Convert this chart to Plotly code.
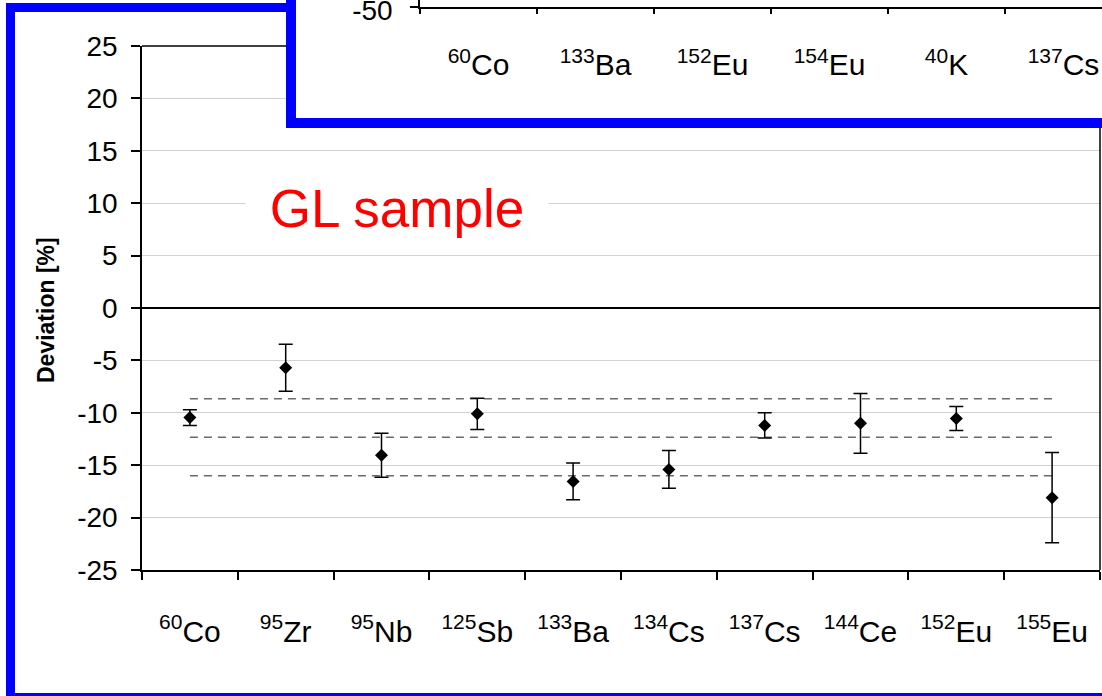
import plotly.graph_objects as go

# ---------------- data ----------------
nuclides = ["<sup>60</sup>Co", "<sup>95</sup>Zr", "<sup>95</sup>Nb", "<sup>125</sup>Sb",
            "<sup>133</sup>Ba", "<sup>134</sup>Cs", "<sup>137</sup>Cs", "<sup>144</sup>Ce",
            "<sup>152</sup>Eu", "<sup>155</sup>Eu"]
deviation = [-10.45, -5.7, -14.05, -10.1, -16.55, -15.4, -11.2, -11.0, -10.55, -18.1]
uncertainty = [0.75, 2.25, 2.1, 1.5, 1.75, 1.8, 1.2, 2.85, 1.15, 4.3]
band_upper = -8.65
band_mean = -12.33
band_lower = -16.0

y_ticks = [25, 20, 15, 10, 5, 0, -5, -10, -15, -20, -25]
y_ticklabels = ["25", "20", "15", "10", "5", "0", "-5", "-10", "-15", "-20", "-25"]

inset_nuclides = ["<sup>60</sup>Co", "<sup>133</sup>Ba", "<sup>152</sup>Eu",
                  "<sup>154</sup>Eu", "<sup>40</sup>K", "<sup>137</sup>Cs"]
inset_yticks = [-50]
inset_yticklabels = ["-50"]

# ---------------- layout constants (pixels) ----------------
W, H = 1102, 696
PL, PR, PT, PB = 142, 1100, 46, 570          # main plot area
IX, IY = 420, 6.5                            # inset axes origin
BLUE = "#0000FF"
FONT = "Liberation Sans, Arial, sans-serif"
YMIN, YMAX = -25, 25


def fx(px):
    return px / W


def fy(py):
    return 1 - py / H


def data_x(px):
    return -0.5 + (px - PL) / (PR - PL) * len(nuclides)


def data_y(py):
    return YMAX - (py - PT) / (PB - PT) * (YMAX - YMIN)


fig = go.Figure()

for val in (band_upper, band_mean, band_lower):
    fig.add_trace(go.Scatter(
        x=[nuclides[0], nuclides[-1]], y=[val, val], mode="lines",
        line=dict(color="#6a6a6a", width=1.5, dash="8px,6px"),
        hoverinfo="skip", xaxis="x", yaxis="y"))

fig.add_trace(go.Scatter(
    x=nuclides, y=deviation, mode="markers",
    marker=dict(symbol="diamond", size=10, color="black"),
    error_y=dict(type="data", array=uncertainty, color="black", thickness=1.5, width=7),
    xaxis="x", yaxis="y"))

# invisible helper trace so the inset axes exist
fig.add_trace(go.Scatter(
    x=inset_nuclides, y=[inset_yticks[0]] * len(inset_nuclides), mode="markers",
    marker=dict(size=1, opacity=0), hoverinfo="skip", xaxis="x2", yaxis="y2"))

fig.update_layout(
    width=W, height=H,
    margin=dict(l=0, r=0, t=0, b=0, pad=0, autoexpand=False),
    paper_bgcolor="white", plot_bgcolor="white",
    showlegend=False,
    font=dict(family=FONT, color="black"),
    xaxis=dict(
        domain=[fx(PL), fx(PR)], anchor="y", type="category", automargin=False,
        categoryorder="array", categoryarray=nuclides,
        range=[-0.5, len(nuclides) - 0.5], tickson="boundaries",
        ticks="outside", ticklen=8, tickwidth=1.5, tickcolor="black",
        showline=True, linecolor="black", linewidth=1.5, showgrid=False,
        tickfont=dict(family=FONT, size=30, color="black"),
        ticklabelstandoff=34),
    yaxis=dict(
        domain=[fy(PB), fy(PT)], anchor="x", range=[YMIN, YMAX], automargin=False,
        tickmode="array", tickvals=y_ticks, ticktext=y_ticklabels,
        ticks="outside", ticklen=9, tickwidth=1.5, tickcolor="black",
        showline=True, linecolor="black", linewidth=1.5,
        showgrid=True, gridcolor="#d2d2d2", gridwidth=1,
        zeroline=True, zerolinecolor="black", zerolinewidth=1.5,
        tickfont=dict(family=FONT, size=28, color="black"),
        ticklabelstandoff=8),
    xaxis2=dict(
        domain=[fx(IX), 1.0], anchor="y2", type="category", automargin=False,
        categoryorder="array", categoryarray=inset_nuclides,
        range=[-0.5, (W - IX) / 117 - 0.5], tickson="boundaries",
        ticks="outside", ticklen=6, tickwidth=1.5, tickcolor="black",
        showline=True, linecolor="black", linewidth=1.5, showgrid=False,
        tickfont=dict(family=FONT, size=30, color="black"),
        ticklabelstandoff=31, ticklabeloverflow="allow"),
    yaxis2=dict(
        domain=[fy(IY), 1.0], anchor="x2", range=[-50, -45], automargin=False,
        tickmode="array", tickvals=inset_yticks, ticktext=inset_yticklabels,
        ticks="outside", ticklen=8, tickwidth=1.5, tickcolor="black",
        showline=True, linecolor="black", linewidth=1.5,
        showgrid=False, zeroline=False,
        tickfont=dict(family=FONT, size=28, color="black"),
        ticklabelstandoff=12, ticklabelshift=4, ticklabeloverflow="allow"),
)

shapes = []
# hide main grid under inset (between gridlines and traces)
shapes.append(dict(type="rect", xref="x", yref="y",
                   x0=data_x(291), x1=data_x(PR + 20),
                   y0=data_y(123), y1=data_y(PT - 20),
                   fillcolor="white", line=dict(width=0), layer="between"))
# main plot top border (visible part) and right border
shapes.append(dict(type="line", xref="paper", yref="paper",
                   x0=fx(PL), x1=fx(291), y0=fy(PT), y1=fy(PT),
                   line=dict(color="black", width=1.5), layer="above"))
shapes.append(dict(type="line", xref="paper", yref="paper",
                   x0=fx(PR), x1=fx(PR), y0=fy(PB), y1=fy(123),
                   line=dict(color="black", width=1.5), layer="above"))
# outer blue frame (left, top, bottom)
shapes.append(dict(type="line", xref="paper", yref="paper",
                   x0=fx(10.5), x1=fx(10.5), y0=fy(3), y1=fy(710),
                   line=dict(color=BLUE, width=9), layer="above"))
shapes.append(dict(type="line", xref="paper", yref="paper",
                   x0=fx(6), x1=fx(291), y0=fy(7.5), y1=fy(7.5),
                   line=dict(color=BLUE, width=9), layer="above"))
shapes.append(dict(type="line", xref="paper", yref="paper",
                   x0=fx(6), x1=fx(1120), y0=fy(697.5), y1=fy(697.5),
                   line=dict(color=BLUE, width=9), layer="above"))
# inset blue frame (left, bottom)
shapes.append(dict(type="line", xref="paper", yref="paper",
                   x0=fx(291), x1=fx(291), y0=fy(-10), y1=fy(128),
                   line=dict(color=BLUE, width=10), layer="above"))
shapes.append(dict(type="line", xref="paper", yref="paper",
                   x0=fx(286), x1=fx(1120), y0=fy(123), y1=fy(123),
                   line=dict(color=BLUE, width=10), layer="above"))
fig.update_layout(shapes=shapes)

fig.add_annotation(
    text="<b>Deviation [%]</b>", textangle=-90, showarrow=False,
    xref="paper", yref="paper", x=fx(46), y=fy(310),
    xanchor="center", yanchor="middle",
    font=dict(family=FONT, size=23, color="black"))
fig.add_annotation(
    text="GL sample", showarrow=False,
    xref="paper", yref="paper", x=fx(397), y=fy(208),
    xanchor="center", yanchor="middle", width=300, bgcolor="white",
    font=dict(family=FONT, size=53, color="#FF0000"))

fig.write_html("out.html", config={"displayModeBar": False},
               post_script="document.body.style.margin='0';")
